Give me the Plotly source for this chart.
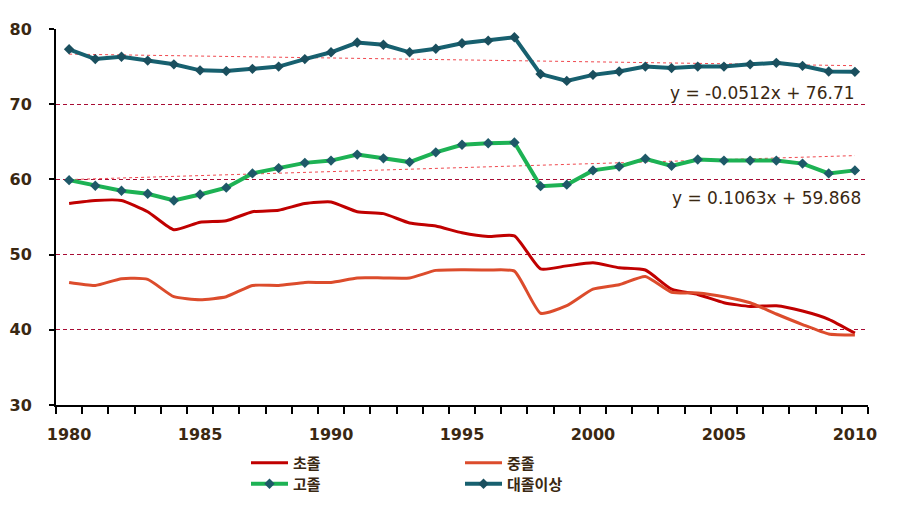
import plotly.graph_objects as go

years = list(range(1980, 2011))

elem = [56.8, 57.2, 57.2, 55.7, 53.3, 54.3, 54.5, 55.7, 55.9, 56.8,
        57.0, 55.7, 55.45, 54.2, 53.8, 52.9, 52.4, 52.5, 48.1, 48.5,
        48.9, 48.25, 47.95, 45.4, 44.7, 43.6, 43.1, 43.2, 42.5, 41.4, 39.55]
middle = [46.3, 45.9, 46.8, 46.7, 44.4, 44.0, 44.4, 45.9, 45.9, 46.3,
          46.3, 46.9, 46.9, 46.9, 47.9, 48.0, 47.95, 47.8, 42.2, 43.2,
          45.4, 46.0, 47.1, 45.0, 44.9, 44.4, 43.6, 42.1, 40.7, 39.45, 39.3]
high = [59.9, 59.15, 58.5, 58.1, 57.2, 58.0, 58.9, 60.8, 61.5, 62.2,
        62.5, 63.3, 62.8, 62.3, 63.6, 64.6, 64.8, 64.9, 59.1, 59.3,
        61.2, 61.7, 62.75, 61.8, 62.65, 62.5, 62.5, 62.5, 62.1, 60.8, 61.2]
college = [77.3, 76.0, 76.3, 75.8, 75.3, 74.5, 74.4, 74.7, 75.0, 76.0,
           76.9, 78.2, 77.9, 76.9, 77.37, 78.1, 78.45, 78.9, 74.0, 73.1,
           73.9, 74.35, 75.0, 74.8, 75.0, 75.0, 75.3, 75.5, 75.1, 74.35, 74.3]

series_names = ["초졸", "중졸", "고졸", "대졸이상"]
trend_college = (-0.0512, 76.71)
trend_high = (0.1063, 59.868)
trend_labels = ["y = -0.0512x + 76.71", "y = 0.1063x + 59.868"]
x_tick_labels = [1980, 1985, 1990, 1995, 2000, 2005, 2010]

TXT = "#3A2812"
fig = go.Figure()

def trend_trace(coef):
    n = len(years)
    xs = [years[0], years[-1]]
    ys = [coef[0] * 1 + coef[1], coef[0] * n + coef[1]]
    return go.Scatter(x=xs, y=ys, mode="lines", showlegend=False, hoverinfo="skip",
                      line=dict(color="#F0484E", width=1, dash="dot"))

fig.add_trace(trend_trace(trend_college))
fig.add_trace(trend_trace(trend_high))

fig.add_trace(go.Scatter(x=years, y=elem, name=series_names[0], mode="lines",
                         line=dict(color="#C00000", width=3, shape="spline", smoothing=0.5),
                         legend="legend"))
fig.add_trace(go.Scatter(x=years, y=middle, name=series_names[1], mode="lines",
                         line=dict(color="#DC4C2C", width=3, shape="spline", smoothing=0.5),
                         legend="legend3"))
fig.add_trace(go.Scatter(x=years, y=high, name=series_names[2], mode="lines+markers",
                         line=dict(color="#1DB254", width=4),
                         marker=dict(symbol="diamond", size=8, color="#1E5968"),
                         legend="legend2"))
fig.add_trace(go.Scatter(x=years, y=college, name=series_names[3], mode="lines+markers",
                         line=dict(color="#17606F", width=4),
                         marker=dict(symbol="diamond", size=8, color="#1A4F5E"),
                         legend="legend4"))

W, H = 902, 506
OFF = 8  # page body margin
# target plot box in page pixels
PX0, PX1, PY0, PY1 = 56, 868, 29, 405
L, T = PX0 - OFF, PY0 - OFF
R, B = W - (PX1 - OFF), H - (PY1 - OFF)
pw, ph = PX1 - PX0, PY1 - PY0

def lx(px):
    return (px - PX0) / pw

def ly(py):
    return (PY1 - py) / ph

leg_font = dict(family="Noto Sans CJK KR", size=15, color=TXT, weight="bold")
common = dict(xanchor="left", yanchor="middle", font=leg_font, bgcolor="rgba(0,0,0,0)",
              itemwidth=37, tracegroupgap=0)
fig.update_layout(
    legend=dict(x=lx(246), y=ly(463), **common),
    legend2=dict(x=lx(246), y=ly(484), **common),
    legend3=dict(x=lx(460), y=ly(463), **common),
    legend4=dict(x=lx(460), y=ly(484), **common),
)

fig.add_annotation(x=lx(857), y=71.5, xref="paper", yref="y", text=trend_labels[0],
                   showarrow=False, xanchor="right", yanchor="middle",
                   font=dict(family="DejaVu Sans", size=17, color=TXT))
fig.add_annotation(x=lx(863), y=57.5, xref="paper", yref="y", text=trend_labels[1],
                   showarrow=False, xanchor="right", yanchor="middle",
                   font=dict(family="DejaVu Sans", size=17, color=TXT))

tick_font = dict(family="DejaVu Sans", size=16, color=TXT, weight="bold")
fig.update_xaxes(range=[1979.5, 2010.5], tickvals=x_tick_labels,
                 ticktext=[str(v) for v in x_tick_labels],
                 ticks="", showgrid=False, zeroline=False,
                 showline=True, linecolor="black", linewidth=2,
                 tickfont=tick_font, ticklabelstandoff=14,
                 minor=dict(ticks="outside", ticklen=7, tickwidth=2, tickcolor="black",
                            tick0=1979.5, dtick=1, showgrid=False))
fig.update_yaxes(range=[30, 80], dtick=10, tick0=30,
                 ticks="outside", ticklen=5, tickwidth=2, tickcolor="black",
                 showgrid=True, gridcolor="#A80C34", gridwidth=1, griddash="4px,3px",
                 zeroline=False, showline=True, linecolor="black", linewidth=2,
                 tickfont=tick_font, ticklabelstandoff=14)

fig.update_layout(width=W, height=H, margin=dict(l=L, r=R, t=T, b=B, autoexpand=False),
                  paper_bgcolor="white", plot_bgcolor="white",
                  font=dict(family="DejaVu Sans, Noto Sans CJK KR", color=TXT))

fig.write_html("out.html")
